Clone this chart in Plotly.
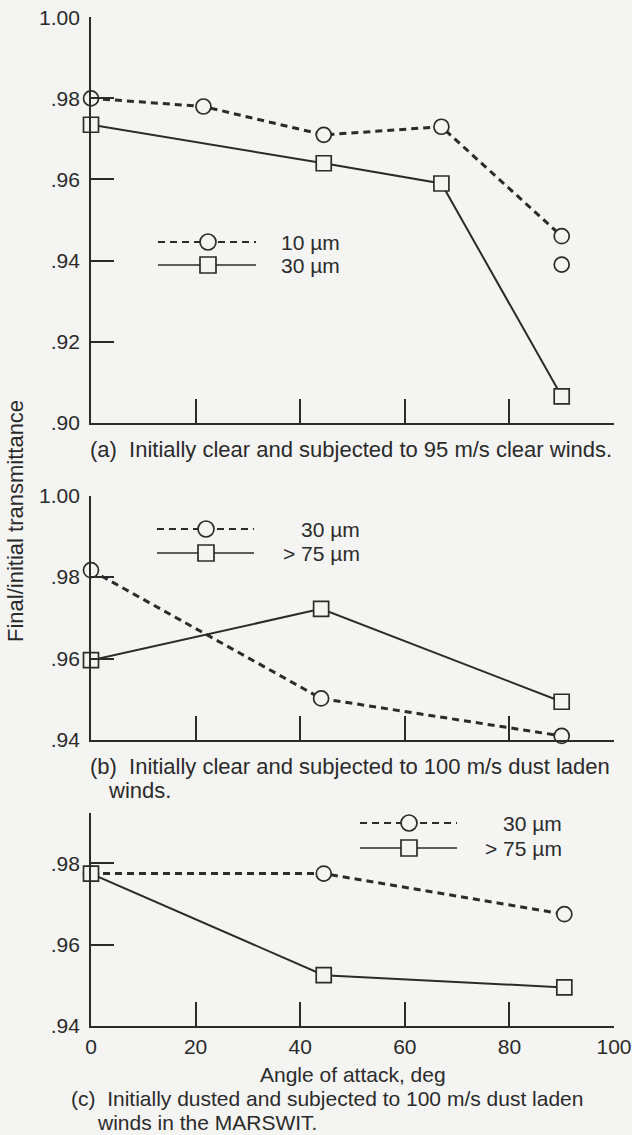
import plotly.graph_objects as go

W, H = 632, 1135
INK = "#2b2b2b"
BG = "#f4f4f2"
FONT = "Liberation Sans, Arial, sans-serif"

# ---------------- data ----------------
# (a) initially clear, 95 m/s clear winds
a_10_x = [0, 21.5, 44.5, 67, 90]
a_10_y = [0.980, 0.978, 0.971, 0.973, 0.946]
a_10_extra_x = [90]
a_10_extra_y = [0.939]
a_30_x = [0, 44.5, 67, 90]
a_30_y = [0.9735, 0.964, 0.959, 0.9065]

# (b) initially clear, 100 m/s dust laden winds
b_30_x = [0, 44, 90]
b_30_y = [0.9817, 0.9502, 0.9410]
b_75_x = [0, 44, 90]
b_75_y = [0.9596, 0.9722, 0.9494]

# (c) initially dusted, 100 m/s dust laden winds (MARSWIT)
c_30_x = [0, 44.5, 90.5]
c_30_y = [0.9775, 0.9775, 0.9675]
c_75_x = [0, 44.5, 90.5]
c_75_y = [0.9775, 0.9525, 0.9495]

x_ticks = [0, 20, 40, 60, 80, 100]
x_ticklabels = ["0", "20", "40", "60", "80", "100"]
a_yticks = [0.90, 0.92, 0.94, 0.96, 0.98, 1.00]
a_yticklabels = [".90", ".92", ".94", ".96", ".98", "1.00"]
b_yticks = [0.94, 0.96, 0.98, 1.00]
b_yticklabels = [".94", ".96", ".98", "1.00"]
c_yticks = [0.94, 0.96, 0.98]
c_yticklabels = [".94", ".96", ".98"]

legend_a = ["10 \u00b5m", "30 \u00b5m"]
legend_b = ["30 \u00b5m", "> 75 \u00b5m"]
legend_c = ["30 \u00b5m", "> 75 \u00b5m"]

captions = {
    "a": ["(a)  Initially clear and subjected to 95 m/s clear winds."],
    "b": ["(b)  Initially clear and subjected to 100 m/s dust laden", "winds."],
    "c": ["(c)  Initially dusted and subjected to 100 m/s dust laden", "winds in the MARSWIT."],
}
x_title = "Angle of attack, deg"
y_title = "Final/initial transmittance"

# ---------------- layout helpers ----------------
def px(x):
    return x / W

def py(y):
    return 1 - y / H

DASH = "7px,5px"
MS = 15
FS = 21

fig = go.Figure()

def add_series(x, y, xa, ya, dashed, symbol, mode="lines+markers"):
    fig.add_trace(go.Scatter(
        x=x, y=y, xaxis=xa, yaxis=ya, mode=mode, showlegend=False,
        line=dict(color=INK, width=3.0 if dashed else 2.0, dash=DASH if dashed else "solid"),
        marker=dict(symbol=symbol, size=MS, color=BG, line=dict(color=INK, width=1.7)),
        cliponaxis=False,
    ))

add_series(a_10_x, a_10_y, "x", "y", True, "circle")
add_series(a_10_extra_x, a_10_extra_y, "x", "y", True, "circle", mode="markers")
add_series(a_30_x, a_30_y, "x", "y", False, "square")
add_series(b_30_x, b_30_y, "x2", "y2", True, "circle")
add_series(b_75_x, b_75_y, "x2", "y2", False, "square")
add_series(c_30_x, c_30_y, "x3", "y3", True, "circle")
add_series(c_75_x, c_75_y, "x3", "y3", False, "square")

xdom = [px(91), px(614)]
axis_common = dict(showline=True, linecolor=INK, linewidth=1.7, showgrid=False, zeroline=False,
                   ticks="inside", tickcolor=INK, tickwidth=1.7, automargin=False,
                   tickfont=dict(family=FONT, size=FS, color=INK))

def xaxis(anchor, labels):
    d = dict(axis_common)
    d.update(domain=xdom, range=[0, 100], anchor=anchor, ticklen=24,
             tickvals=x_ticks, ticktext=x_ticklabels, showticklabels=labels,
             ticklabelstandoff=1, ticklabeloverflow="allow")
    return d

def yaxis(anchor, dom, rng, tv, tt):
    d = dict(axis_common)
    d.update(domain=dom, range=rng, anchor=anchor, ticklen=23,
             tickvals=tv, ticktext=tt, ticklabelstandoff=5, ticklabeloverflow="allow")
    return d

layout = dict(
    width=W, height=H, margin=dict(l=0, r=0, t=0, b=0, autoexpand=False),
    paper_bgcolor=BG, plot_bgcolor=BG,
    font=dict(family=FONT, size=FS, color=INK),
    xaxis=xaxis("y", False),
    yaxis=yaxis("x", [py(422.7), py(17.3)], [0.90, 1.00], a_yticks, a_yticklabels),
    xaxis2=xaxis("y2", False),
    yaxis2=yaxis("x2", [py(740), py(495.7)], [0.94, 1.00], b_yticks, b_yticklabels),
    xaxis3=xaxis("y3", True),
    yaxis3=yaxis("x3", [py(1026), py(813)], [0.94, 0.9924], c_yticks, c_yticklabels),
)
fig.update_layout(**layout)

shapes = []
annotations = []

def legend_block(labels, rows_y, x0, x1, xm, text_x, text_anchor):
    styles = [("circle", True), ("square", False)]
    for (sym, dashed), ry, lab in zip(styles, rows_y, labels):
        shapes.append(dict(type="line", xref="paper", yref="paper",
                           x0=px(x0), x1=px(x1), y0=py(ry), y1=py(ry),
                           line=dict(color=INK, width=2.2 if dashed else 1.7,
                                     dash=DASH if dashed else "solid")))
        shapes.append(dict(type="circle" if sym == "circle" else "rect",
                           xref="paper", yref="paper", xsizemode="pixel", ysizemode="pixel",
                           xanchor=px(xm), yanchor=py(ry),
                           x0=-8, x1=8, y0=-8, y1=8,
                           fillcolor=BG, line=dict(color=INK, width=1.7)))
        annotations.append(dict(xref="paper", yref="paper", x=px(text_x), y=py(ry),
                                text=lab, showarrow=False, xanchor=text_anchor, yanchor="middle",
                                font=dict(family=FONT, size=FS, color=INK)))

legend_block(legend_a, [242, 265], 158, 256, 208, 279, "left")
legend_block(legend_b, [529, 553], 157, 254, 206, 362, "right")
legend_block(legend_c, [823, 848], 360, 457, 409, 564, "right")

def text(t, x, y, anchor="left", size=FS):
    annotations.append(dict(xref="paper", yref="paper", x=px(x), y=py(y), text=t,
                            showarrow=False, xanchor=anchor, yanchor="middle", borderpad=0,
                            font=dict(family=FONT, size=size, color=INK)))

text(captions["a"][0], 89, 450, size=22)
text(captions["b"][0], 89, 766, size=22)
text(captions["b"][1], 107, 790, size=22)
text(captions["c"][0], 70, 1098, size=21)
text(captions["c"][1], 96, 1122, size=21)
text(x_title, 353, 1074, anchor="center", size=21)

annotations.append(dict(xref="paper", yref="paper", x=px(15), y=py(521), text=y_title,
                        textangle=-90, showarrow=False, xanchor="center", yanchor="middle",
                        font=dict(family=FONT, size=22, color=INK)))

fig.update_layout(shapes=shapes, annotations=annotations)
fig.write_html(
    "out.html",
    config={"displayModeBar": False},
    post_script="document.body.style.margin='0';document.body.style.background='%s';"
                "document.documentElement.style.overflow='hidden';" % BG,
)
